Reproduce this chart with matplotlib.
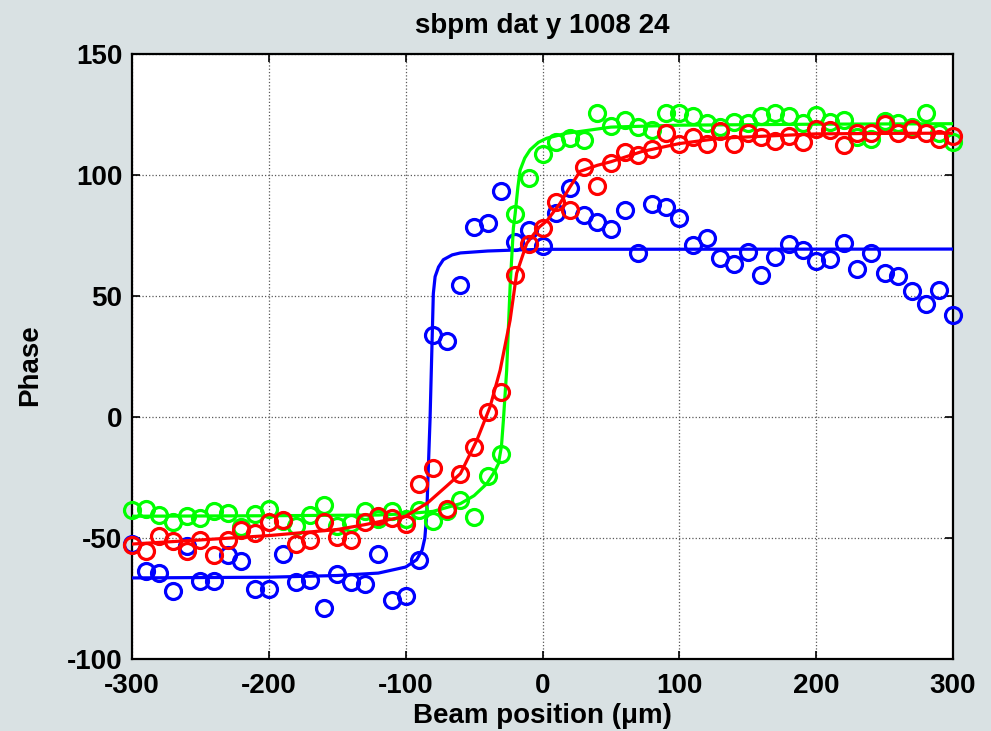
import numpy as np
import matplotlib
matplotlib.use("Agg")
import matplotlib.pyplot as plt

# positions (um) - same grid for all three sets
x_pos = np.arange(-300, 301, 10)

blue_pts = [-52.4, -63.5, -64.6, -71.7, -53.1, -67.9, -67.9, -57.2, -59.3, -71.0,
            -71.0, -56.8, -68.3, -67.5, -78.8, -64.9, -68.3, -69.2, -56.8, -75.6,
            -73.8, -59.0, 34.0, 31.6, 54.5, 78.6, 80.0, 93.2, 72.4, 77.3,
            70.6, 84.3, 94.7, 83.5, 80.7, 77.6, 85.6, 67.6, 88.0, 86.7,
            82.1, 71.1, 73.8, 65.6, 63.2, 68.3, 58.8, 66.0, 71.5, 69.0,
            64.6, 65.1, 72.0, 61.0, 67.6, 59.6, 58.2, 52.2, 46.9, 52.4, 42.1]

green_pts = [-38.6, -37.9, -40.7, -43.4, -41.1, -41.7, -38.9, -39.7, -45.5, -40.0,
             -37.9, -43.0, -45.0, -40.7, -36.2, -45.0, -44.0, -39.0, -42.3, -38.9,
             -42.0, -38.6, -42.9, -39.0, -34.4, -41.5, -24.5, -15.1, 83.7, 98.7,
             108.5, 113.5, 115.2, 114.5, 125.6, 120.3, 122.8, 119.8, 118.7, 125.6,
             125.6, 124.2, 121.4, 120.0, 122.1, 121.4, 124.4, 125.8, 124.2, 121.7,
             124.9, 122.1, 122.8, 115.9, 114.8, 122.5, 121.4, 119.8, 125.6, 117.5, 113.8]

red_pts = [-52.7, -55.2, -49.0, -51.3, -55.5, -51.0, -57.2, -51.0, -46.9, -48.0,
           -43.4, -42.5, -52.4, -51.0, -43.4, -49.7, -51.0, -43.5, -41.0, -41.7,
           -44.1, -27.6, -21.0, -37.9, -23.4, -12.3, 2.1, 10.3, 58.6, 71.3,
           78.0, 89.0, 85.6, 103.5, 95.5, 104.9, 109.7, 108.3, 110.7, 117.5,
           112.9, 115.6, 112.9, 118.0, 112.9, 117.5, 115.8, 114.2, 116.2, 113.8,
           119.0, 118.4, 112.5, 117.3, 117.3, 121.1, 117.3, 119.0, 117.5, 114.8, 116.2]

# fitted curves
blue_fit_x = [-300, -200, -150, -120, -100, -92, -88, -86, -84.6, -83.5, -82.2, -81,
              -79.8, -78.5, -76, -72.5, -66, -60, -40, -20, 0, 300]
blue_fit_y = [-66.5, -66.2, -65.5, -64.5, -62, -59, -55, -50, -40, -22, -1, 25,
              51, 58, 62, 65, 67, 67.8, 68.6, 69, 69.3, 69.4]

green_fit_x = [-300, -200, -120, -100, -80, -60, -50, -40.8, -35, -32.2, -30, -28.6,
               -26.2, -23.7, -21.3, -20, -18, -16.4, -13, -9.1, -3, 3.1, 17.7, 27.4,
               50, 100, 200, 300]
green_fit_y = [-41, -40.8, -40.5, -40, -39, -35.8, -32.5, -27.6, -22.5, -19.3, -12, -1.4,
               19.3, 53.8, 78, 84, 95, 102, 107, 110.4, 113.5, 115.2, 117.3, 118,
               119.8, 120.6, 121, 121.2]

red_fit_x = [-300, -250, -200, -150, -130, -100, -84, -80, -70, -60, -48, -38.4,
             -31, -23.7, -18.9, -11.5, -2.2, 3.1, 12.8, 20, 27.4, 40, 50, 72.6,
             100, 130, 160, 200, 250, 300]
red_fit_y = [-52.5, -50.8, -49, -46.5, -44.5, -41, -35.5, -33.5, -28.5, -23.4, -9.6, 4.1,
             19.3, 40, 59.4, 71.8, 78.6, 81, 88.3, 95, 101.5, 104, 105.5, 109.7,
             113, 115.2, 116, 117, 117.2, 117.3]

plt.rcParams['font.family'] = ['Liberation Sans', 'DejaVu Sans']
plt.rcParams['font.weight'] = 'bold'
plt.rcParams['axes.unicode_minus'] = False  # plain hyphens like the original

fig = plt.figure(figsize=(9.91, 7.31), dpi=100, facecolor='#d9e1e3')
ax = fig.add_axes([0.1332, 0.0985, 0.8285, 0.8276])
ax.set_facecolor('white')

# blue, then green, then red (red ends on top)
for pts, fx, fy, c in [(blue_pts, blue_fit_x, blue_fit_y, '#0000ff'),
                       (green_pts, green_fit_x, green_fit_y, '#00ff00'),
                       (red_pts, red_fit_x, red_fit_y, '#ff0000')]:
    ax.plot(x_pos, pts, 'o', mfc='none', mec=c, ms=11.5, mew=2.3, clip_on=False, zorder=3)
    ax.plot(fx, fy, '-', color=c, lw=2.3, zorder=3)

ax.set_xlim(-300, 300)
ax.set_ylim(-100, 150)
ax.set_xticks([-300, -200, -100, 0, 100, 200, 300])
ax.set_yticks([-100, -50, 0, 50, 100, 150])
ax.grid(True, linestyle=':', color='0.35', lw=0.9)
ax.tick_params(direction='in', top=True, right=True, length=6, width=1.2, labelsize=20)
ax.tick_params(axis='x', pad=10)
ax.tick_params(axis='y', pad=7)
for lab in ax.get_xticklabels() + ax.get_yticklabels():
    lab.set_fontweight('bold')
for sp in ax.spines.values():
    sp.set_linewidth(1.6)

ax.set_title('sbpm dat y 1008 24', fontsize=20, fontweight='bold', pad=15)
ax.set_xlabel('Beam position (\u03bcm)', fontsize=20, fontweight='bold')
ax.set_ylabel('Phase', fontsize=20, fontweight='bold')
ax.xaxis.set_label_coords(0.5, -0.072)
ax.yaxis.set_label_coords(-0.108, 0.485)

fig.savefig('out.png', dpi=100, facecolor=fig.get_facecolor())
